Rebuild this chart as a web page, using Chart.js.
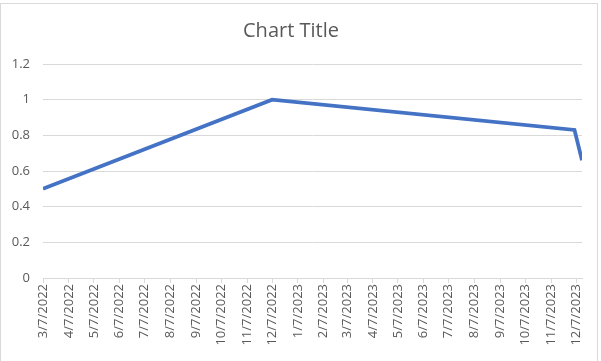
<!DOCTYPE html>
<html>
<head>
<meta charset="utf-8">
<script src="https://cdn.jsdelivr.net/npm/chart.js@4.4.1/dist/chart.umd.min.js"></script>
<style>
  html, body { margin: 0; padding: 0; background: #fff; }
  #wrap { position: relative; width: 601px; height: 361px; }
  #frame { position: absolute; left: 0; top: 3px; width: 598px; height: 380px; border: 1px solid #d9d9d9; box-sizing: border-box; }
  canvas { position: absolute; left: 0; top: 0; }
</style>
</head>
<body>
<div id="wrap">
  <div id="frame"></div>
  <canvas id="chart" width="601" height="361"></canvas>
</div>
<script>
// data (dates as y, m, d)
const pointDates = [[2022, 3, 7], [2022, 12, 7], [2023, 12, 5], [2023, 12, 14]];
const pointValues = [0.5, 1.0, 0.83, 0.66];
const yTicks = [0, 0.2, 0.4, 0.6, 0.8, 1, 1.2];
// monthly tick labels on the date axis
const tickDates = [
  [2022, 3, 7], [2022, 4, 7], [2022, 5, 7], [2022, 6, 7], [2022, 7, 7], [2022, 8, 7],
  [2022, 9, 7], [2022, 10, 7], [2022, 11, 7], [2022, 12, 7], [2023, 1, 7], [2023, 2, 7],
  [2023, 3, 7], [2023, 4, 7], [2023, 5, 7], [2023, 6, 7], [2023, 7, 7], [2023, 8, 7],
  [2023, 9, 7], [2023, 10, 7], [2023, 11, 7], [2023, 12, 7]
];

const toTime = d => Date.UTC(d[0], d[1] - 1, d[2]);
const fmt = t => {
  const d = new Date(t);
  return (d.getUTCMonth() + 1) + '/' + d.getUTCDate() + '/' + d.getUTCFullYear();
};

const points = pointDates.map((d, i) => ({ x: toTime(d), y: pointValues[i] }));
const tickTimes = tickDates.map(toTime);
const font = "'Open Sans', 'Liberation Sans', sans-serif";

new Chart(document.getElementById('chart'), {
    type: 'line',
    data: {
        datasets: [{
            data: points,
            borderColor: '#4472c4',
            borderWidth: 3.75,
            pointRadius: 0,
            tension: 0,
            borderCapStyle: 'butt',
            borderJoinStyle: 'miter'
        }]
    },
    options: {
        responsive: false,
        animation: false,
        layout: { padding: { left: 0, right: 19, top: 0, bottom: 0 } },
        plugins: {
            legend: { display: false },
            tooltip: { enabled: false },
            title: {
                display: true,
                text: 'Chart Title',
                color: '#595959',
                font: { family: font, size: 20, weight: 'normal' },
                padding: { top: 19, bottom: 21 }
            }
        },
        scales: {
            x: {
                type: 'linear',
                min: toTime(pointDates[0]),
                max: toTime(pointDates[pointDates.length - 1]),
                afterBuildTicks: axis => {
                    axis.ticks = tickTimes.map(v => ({ value: v }));
                },
                afterFit: scale => { scale.height = 83; },
                border: { display: true, color: '#d9d9d9', width: 1 },
                grid: { drawOnChartArea: false, drawTicks: true, tickLength: 5, color: '#d9d9d9' },
                ticks: {
                    autoSkip: false,
                    minRotation: 90,
                    maxRotation: 90,
                    padding: 1,
                    color: '#595959',
                    font: { family: font, size: 13 },
                    callback: value => fmt(value)
                }
            },
            y: {
                min: 0,
                max: 1.2,
                afterBuildTicks: axis => {
                    axis.ticks = yTicks.map(v => ({ value: v }));
                },
                afterFit: scale => { scale.width = 43; },
                border: { display: false },
                grid: { color: '#d9d9d9', drawTicks: false },
                ticks: {
                    padding: 13,
                    color: '#595959',
                    font: { family: font, size: 13 },
                    callback: value => String(value)
                }
            }
        }
    }
});
</script>
</body>
</html>
